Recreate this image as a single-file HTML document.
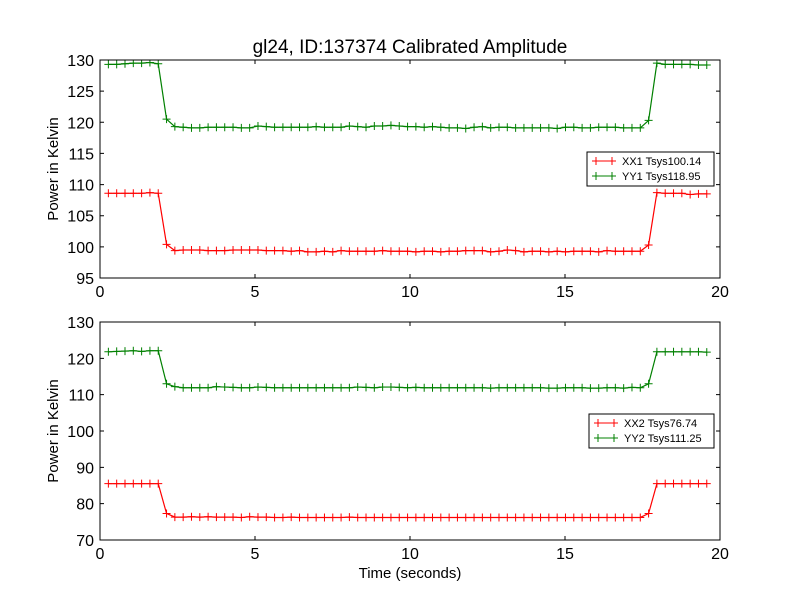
<!DOCTYPE html>
<html><head><meta charset="utf-8"><style>
body{margin:0;background:#fff}
svg{display:block;font-family:"Liberation Sans","DejaVu Sans",sans-serif}
</style></head><body>
<svg id="fig" width="800" height="600" viewBox="0 0 800 600"></svg>
<script>
const xTicks=[0,5,10,15,20];
const yTicksTop=[95,100,105,110,115,120,125,130];
const yTicksBot=[70,80,90,100,110,120,130];
const t0=0.27, dt=0.2681, nPts=73;
const gLow1=[119.3,119.2,119.1,119.1,119.2,119.2,119.2,119.2,119.1,119.1,119.4,119.3,119.2,119.2,119.2,119.2,119.2,119.3,119.2,119.2,119.2,119.4,119.3,119.2,119.4,119.4,119.5,119.4,119.3,119.3,119.2,119.3,119.2,119.1,119.1,119.0,119.2,119.3,119.1,119.2,119.2,119.1,119.1,119.1,119.1,119.1,119.0,119.2,119.2,119.1,119.1,119.2,119.2,119.2,119.1,119.1,119.1];
const rLow1=[99.4,99.5,99.5,99.5,99.4,99.4,99.4,99.5,99.5,99.5,99.5,99.4,99.4,99.4,99.3,99.4,99.2,99.2,99.3,99.2,99.4,99.3,99.3,99.3,99.3,99.4,99.3,99.3,99.3,99.2,99.3,99.3,99.2,99.3,99.3,99.4,99.4,99.4,99.2,99.3,99.5,99.4,99.2,99.3,99.3,99.2,99.3,99.2,99.3,99.3,99.3,99.2,99.4,99.3,99.3,99.3,99.3];
const gLow2=[112.2,111.9,111.9,111.9,111.9,112.2,112.1,112.0,111.9,111.9,112.1,112.0,111.9,111.9,111.9,111.9,111.9,111.9,111.9,111.9,111.9,111.9,112.1,112.0,111.9,112.1,112.1,112.0,111.9,112.0,111.9,111.9,111.9,111.9,111.9,111.9,111.9,111.9,111.8,111.9,111.9,111.9,111.9,111.9,111.9,111.8,111.8,111.9,111.9,111.9,111.8,111.8,111.9,111.9,111.8,112.0,111.9];
const rLow2=[76.3,76.3,76.4,76.3,76.4,76.3,76.3,76.3,76.2,76.4,76.3,76.3,76.2,76.2,76.3,76.2,76.2,76.2,76.2,76.2,76.2,76.3,76.2,76.2,76.2,76.2,76.2,76.2,76.2,76.2,76.2,76.2,76.2,76.2,76.2,76.2,76.2,76.2,76.2,76.2,76.2,76.2,76.2,76.2,76.2,76.2,76.2,76.2,76.2,76.2,76.2,76.2,76.2,76.2,76.2,76.2,76.2];
const yy1=[129.3,129.3,129.4,129.5,129.5,129.6,129.4,120.5].concat(gLow1,[120.3,129.5,129.3,129.3,129.3,129.3,129.2,129.2]);
const xx1=[108.6,108.6,108.6,108.6,108.6,108.7,108.6,100.4].concat(rLow1,[100.3,108.7,108.6,108.6,108.6,108.4,108.5,108.5]);
const yy2=[121.8,121.9,122.0,122.1,121.9,122.1,122.1,113.0].concat(gLow2,[113.0,121.8,121.8,121.8,121.8,121.8,121.8,121.7]);
const xx2=[85.5,85.5,85.5,85.5,85.5,85.5,85.5,77.3].concat(rLow2,[77.3,85.5,85.5,85.5,85.5,85.5,85.5,85.5]);
const times=[];for(let i=0;i<nPts;i++)times.push(t0+i*dt);

const NS="http://www.w3.org/2000/svg";
const svg=document.getElementById('fig');
function el(tag,attrs,parent){const e=document.createElementNS(NS,tag);for(const k in attrs)e.setAttribute(k,attrs[k]);(parent||svg).appendChild(e);return e;}

function panel(cfg){
  const {top,bottom,ymin,ymax,yTicks,series,legend,name}=cfg;
  const L=100,R=720;
  const g=el('g',{});
  
  
  const xs=v=>L+(v-0)/(20-0)*(R-L);
  const ys=v=>bottom-(v-ymin)/(ymax-ymin)*(bottom-top);
  const clipId=name+'-clip';
  const cp=el('clipPath',{id:clipId},g);el('rect',{x:L,y:top,width:R-L,height:bottom-top},cp);
  series.forEach(s=>{
    const sg=el('g',{'clip-path':'url(#'+clipId+')'},g);
    
    
    const pts=s.vals.map((v,i)=>xs(times[i]).toFixed(2)+','+ys(v).toFixed(2)).join(' ');
    el('polyline',{points:pts,fill:'none',stroke:s.color,'stroke-width':1.2},sg);
    s.vals.forEach((v,i)=>{const x=xs(times[i]),y=ys(v);
      const m=el('path',{d:`M${x-4},${y}H${x+4}M${x},${y-4}V${y+4}`,stroke:s.color,'stroke-width':1},sg);
      
      });
  });
  const frame=el('rect',{x:L,y:top,width:R-L,height:bottom-top,fill:'none',stroke:'#000','stroke-width':1},g);
  
  
  xTicks.forEach(v=>{const x=xs(v);
    el('path',{d:`M${x},${bottom}v-4M${x},${top}v4`,stroke:'#000'},g);
    const t=el('text',{x:x,y:bottom+19,'text-anchor':'middle','font-size':16},g);t.textContent=v;
    
    });
  yTicks.forEach(v=>{const y=ys(v);
    el('path',{d:`M${L},${y}h4M${R},${y}h-4`,stroke:'#000'},g);
    const t=el('text',{x:L-6,y:y+6,'text-anchor':'end','font-size':16},g);t.textContent=v;
    
    });
  const yl=el('text',{x:0,y:0,'text-anchor':'middle','font-size':15,transform:`translate(58,${(top+bottom)/2}) rotate(-90)`},g);
  yl.textContent='Power in Kelvin';
  
  
  const lg=el('g',{},g);
  
  
  el('rect',{x:legend.x,y:legend.y,width:legend.w,height:34,fill:'#fff',stroke:'#000','stroke-width':1},lg);
  series.forEach((s,i)=>{const y=legend.y+9+i*15;
    const e=el('g',{},lg);
    
    
    el('path',{d:`M${legend.x+5},${y}h24M${legend.x+9},${y-4}v8M${legend.x+25},${y-4}v8`,stroke:s.color},e);
    const t=el('text',{x:legend.x+35,y:y+4,'font-size':11},e);t.textContent=s.label;});
}
panel({name:'top-panel',top:60,bottom:278,ymin:95,ymax:130,yTicks:yTicksTop,legend:{x:587,y:152,w:127},
  series:[{name:'xx1-series',label:'XX1 Tsys100.14',color:'#ff0000',vals:xx1},{name:'yy1-series',label:'YY1 Tsys118.95',color:'#008000',vals:yy1}]});
panel({name:'bottom-panel',top:322,bottom:540,ymin:70,ymax:130,yTicks:yTicksBot,legend:{x:589,y:414,w:125},
  series:[{name:'xx2-series',label:'XX2 Tsys76.74',color:'#ff0000',vals:xx2},{name:'yy2-series',label:'YY2 Tsys111.25',color:'#008000',vals:yy2}]});
const title=el('text',{x:410,y:53,'text-anchor':'middle','font-size':19});
title.textContent='gl24, ID:137374 Calibrated Amplitude';


const xl=el('text',{x:410,y:578,'text-anchor':'middle','font-size':15});
xl.textContent='Time (seconds)';


</script>
</body></html>
